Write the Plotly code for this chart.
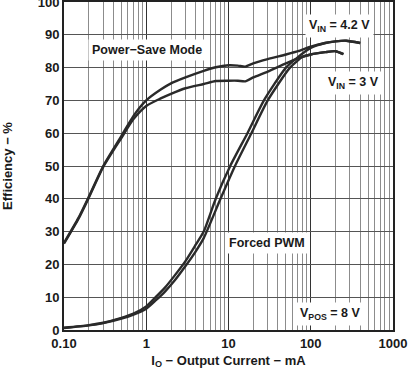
import math
import plotly.graph_objects as go

# ---- data ----
ps42_x = [0.1, 0.15, 0.2, 0.3, 0.5, 0.7, 1, 1.5, 2, 3, 5, 7, 10, 13, 16, 20, 30, 50, 70, 100, 150, 200, 270, 400]
ps42_y = [26.6, 34.2, 40.6, 50.0, 59.2, 65.3, 70.0, 73.3, 75.2, 77.0, 79.0, 80.1, 80.7, 80.6, 80.3, 81.3, 82.6, 84.0, 85.0, 86.4, 87.5, 88.0, 88.2, 87.5]

ps3_x = [0.1, 0.15, 0.2, 0.3, 0.5, 0.7, 1, 1.5, 2, 3, 5, 7, 10, 13, 16, 20, 30, 50, 70, 100, 150, 200, 250]
ps3_y = [26.3, 33.9, 40.3, 49.7, 58.6, 64.3, 68.3, 70.6, 72.0, 73.7, 75.0, 75.9, 76.0, 76.0, 75.8, 77.0, 78.8, 81.3, 82.8, 84.0, 84.7, 85.0, 84.1]

pwm42_x = [0.1, 0.2, 0.3, 0.5, 0.7, 1, 1.3, 1.7, 2.2, 3, 4, 5, 7, 10.5, 17, 27, 50, 70, 100, 150, 200, 270, 400]
pwm42_y = [0.7, 1.5, 2.2, 3.7, 5.0, 7.2, 10.0, 13.0, 16.5, 21.0, 26.0, 30.0, 40.0, 50.0, 60.0, 70.0, 80.0, 83.2, 86.0, 87.5, 88.0, 88.2, 87.5]

pwm3_x = [0.1, 0.2, 0.3, 0.5, 0.7, 1, 1.3, 1.7, 2.2, 3, 4, 5, 8, 12, 19, 30, 56, 80, 100, 150, 200, 250]
pwm3_y = [0.6, 1.4, 2.1, 3.5, 4.7, 6.5, 9.0, 11.8, 15.0, 19.5, 24.0, 28.0, 40.0, 50.0, 60.0, 70.0, 80.0, 83.3, 84.0, 84.7, 85.0, 84.1]

x_tickvals = [0.1, 1, 10, 100, 1000]
x_ticktext = ["0.10", "1", "10", "100", "1000"]
y_tickvals = [0, 10, 20, 30, 40, 50, 60, 70, 80, 90, 100]

labels = [
    ("Power\u2212Save Mode", 1.02, 85.4),
    ("V<sub>IN</sub> = 4.2 V", 224, 92.8),
    ("V<sub>IN</sub> = 3 V", 330, 75.4),
    ("Forced PWM", 29.3, 26.6),
    ("V<sub>POS</sub> = 8 V", 171, 5.0),
]

LINE = "#2a2a2a"
FONT = "Liberation Sans, Arial, Helvetica, sans-serif"

fig = go.Figure()
for xs, ys in [(ps42_x, ps42_y), (ps3_x, ps3_y), (pwm42_x, pwm42_y), (pwm3_x, pwm3_y)]:
    fig.add_trace(go.Scatter(x=xs, y=ys, mode="lines",
                             line=dict(color=LINE, width=2.4, shape="spline", smoothing=0.6),
                             showlegend=False, hoverinfo="skip"))

for text, xv, yv in labels:
    fig.add_annotation(x=math.log10(xv), y=yv, text=text, showarrow=False,
                       font=dict(family=FONT, size=12.5, color="#1a1a1a", weight="bold"),
                       bgcolor="white", borderpad=3, xanchor="center", yanchor="middle")

fig.update_xaxes(type="log", range=[-1, 3.0005],
                 tickvals=x_tickvals, ticktext=x_ticktext,
                 showgrid=True, gridcolor="#333333", gridwidth=1,
                 minor=dict(dtick="D1", showgrid=True, gridcolor="#8c8c8c", gridwidth=1, ticks=""),
                 showline=True, mirror=True, linecolor="#222222", linewidth=2,
                 ticks="", ticklen=2, zeroline=False, automargin=False, ticklabeloverflow="allow",
                 tickfont=dict(family=FONT, size=13, color="#1a1a1a", weight="bold"),
                 title=dict(text="I<sub>O</sub> \u2212 Output Current \u2212 mA",
                            font=dict(family=FONT, size=13, color="#1a1a1a", weight="bold"),
                            standoff=6))
fig.update_yaxes(range=[0, 100], tickvals=y_tickvals,
                 showgrid=True, gridcolor="#555555", gridwidth=1,
                 showline=True, mirror=True, linecolor="#222222", linewidth=2,
                 ticks="", ticklen=1, zeroline=False, automargin=False, ticklabeloverflow="allow",
                 tickfont=dict(family=FONT, size=13, color="#1a1a1a", weight="bold"),
                 title=dict(text="Efficiency \u2212 %",
                            font=dict(family=FONT, size=13, color="#1a1a1a", weight="bold"),
                            standoff=22))

fig.update_layout(width=409, height=371,
                  margin=dict(l=64, r=16, t=2, b=41),
                  paper_bgcolor="white", plot_bgcolor="white")

fig.write_html("out.html", config={"displayModeBar": False},
               post_script="document.body.style.margin='0';document.body.style.overflow='hidden';")
